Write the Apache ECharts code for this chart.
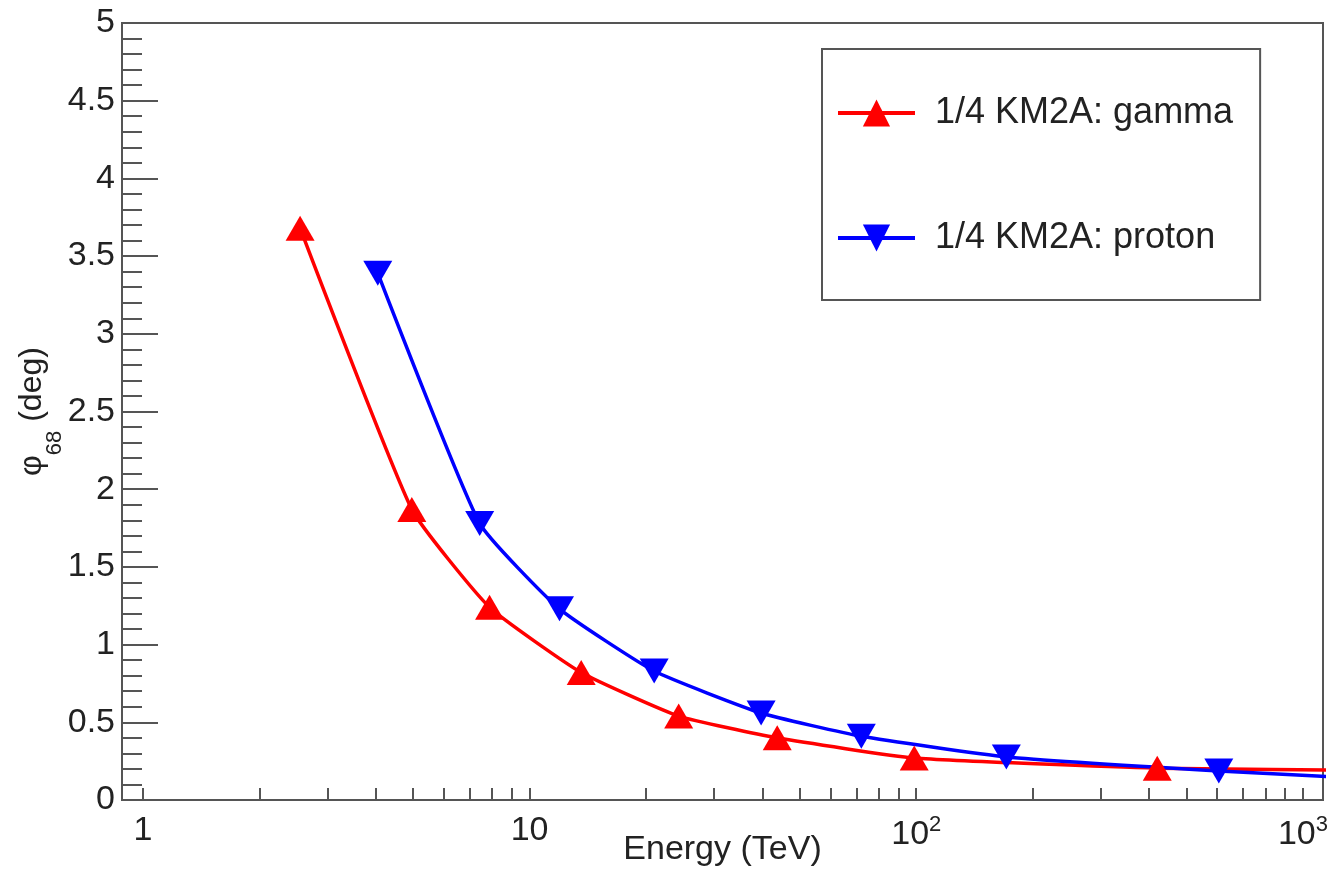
<!DOCTYPE html>
<html>
<head>
<meta charset="utf-8">
<script src="https://cdn.jsdelivr.net/npm/echarts@6/dist/echarts.min.js"></script>
<style>
  html, body { margin: 0; padding: 0; background: #fff; }
  #chart { width: 1332px; height: 872px; }
</style>
</head>
<body>
<div id="chart"></div>
<script>
// energy (TeV) and angular resolution (deg)
const gammaEnergy = [2.55, 4.96, 7.88, 13.6, 24.3, 43.7, 98.8, 420, 1700];
const gammaPsi = [3.68, 1.87, 1.24, 0.82, 0.54, 0.40, 0.27, 0.205, 0.19];
const protonEnergy = [4.05, 7.43, 11.95, 21.0, 39.7, 72.1, 171, 606, 2000];
const protonPsi = [3.39, 1.78, 1.23, 0.83, 0.56, 0.41, 0.277, 0.187, 0.12];

const xLabelValues = [1, 10, 100, 1000];
const xTickValues = [1, 2, 3, 4, 5, 6, 7, 8, 9, 10, 20, 30, 40, 50, 60, 70, 80, 90,
  100, 200, 300, 400, 500, 600, 700, 800, 900, 1000];

const axisColor = '#555';
const textColor = '#222';
const font = 'Liberation Sans, Arial, Helvetica, sans-serif';

const toPairs = (xs, ys) => xs.map((x, i) => [x, ys[i]]);

const myChart = echarts.init(document.getElementById('chart'));

const option = {
  animation: false,
  textStyle: { fontFamily: font },
  grid: {
    left: 122, right: 9, top: 23, bottom: 72,
    containLabel: false, outerBoundsMode: 'none',
    show: true, borderColor: axisColor, borderWidth: 2, backgroundColor: '#fff'
  },
  legend: {
    orient: 'vertical',
    left: 822, top: 49,
    padding: [46, 27, 44, 14],
    itemGap: 89,
    itemWidth: 77, itemHeight: 34,
    borderColor: axisColor, borderWidth: 2,
    lineStyle: { width: 4 },
    textStyle: { fontSize: 36, color: textColor, fontFamily: font, padding: [0, 0, 0, 15] },
    data: ['1/4 KM2A: gamma', '1/4 KM2A: proton']
  },
  xAxis: {
    type: 'log',
    min: 0.883, max: 1127,
    name: 'Energy (TeV)',
    nameLocation: 'middle',
    nameGap: 33,
    nameMoveOverlap: false,
    nameTextStyle: { fontSize: 34, color: textColor },
    axisLine: { lineStyle: { color: axisColor, width: 2 } },
    axisTick: {
      inside: true, length: 12, customValues: xTickValues,
      lineStyle: { color: axisColor, width: 2 }
    },
    axisLabel: {
      customValues: xLabelValues,
      fontSize: 34, color: textColor, margin: 14,
      formatter: v => {
        if (v === 1) return '1';
        if (v === 10) return '10';
        return '10{sup|' + Math.round(Math.log10(v)) + '}';
      },
      rich: { sup: { fontSize: 22, color: textColor, padding: [0, 0, 20, 0] } }
    },
    splitLine: { show: false }
  },
  yAxis: {
    type: 'value',
    min: 0, max: 5, interval: 0.5,
    name: '{phi|φ}{sub|68}{deg| (deg)}',
    nameLocation: 'middle',
    nameGap: 56,
    nameMoveOverlap: false,
    nameTextStyle: {
      color: textColor,
      rich: {
        phi: { fontSize: 32, lineHeight: 32, color: textColor, verticalAlign: 'top' },
        sub: { fontSize: 22, lineHeight: 50, color: textColor, verticalAlign: 'bottom' },
        deg: { fontSize: 32, lineHeight: 32, color: textColor, verticalAlign: 'top' }
      }
    },
    axisLine: { lineStyle: { color: axisColor, width: 2 } },
    axisTick: { inside: true, length: 36, lineStyle: { color: axisColor, width: 2 } },
    minorTick: { show: true, splitNumber: 5, length: 20, lineStyle: { color: axisColor, width: 2 } },
    axisLabel: { fontSize: 34, color: textColor, margin: 7 },
    splitLine: { show: false }
  },
  series: [
    {
      name: '1/4 KM2A: gamma',
      type: 'line',
      data: toPairs(gammaEnergy, gammaPsi),
      smooth: 0.15,
      symbol: 'triangle',
      symbolSize: [29, 25],
      lineStyle: { color: '#ff0000', width: 3.5 },
      itemStyle: { color: '#ff0000' }
    },
    {
      name: '1/4 KM2A: proton',
      type: 'line',
      data: toPairs(protonEnergy, protonPsi),
      smooth: 0.15,
      symbol: 'path://M0,0 L10,0 L5,8.6 Z',
      symbolSize: [29, 25],
      lineStyle: { color: '#0000ff', width: 3.5 },
      itemStyle: { color: '#0000ff' }
    }
  ]
};

myChart.setOption(option);
window.addEventListener('resize', () => myChart.resize());
</script>
</body>
</html>
